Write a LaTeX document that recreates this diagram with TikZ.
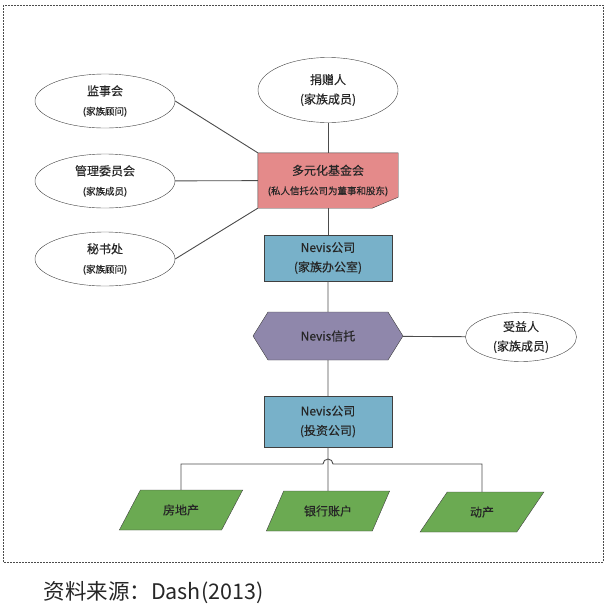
\documentclass[tikz,border=0pt]{standalone}
\usepackage{fontspec}
\setmainfont{Noto Sans CJK SC}[FakeBold=0.35]
\newfontfamily\captionfont{Noto Sans CJK SC}
\usetikzlibrary{shapes.geometric,shapes.symbols,backgrounds}
\definecolor{foundred}{HTML}{E48A8A}
\definecolor{officeblue}{HTML}{78B1C9}
\definecolor{trustpurple}{HTML}{8F87AB}
\definecolor{assetgreen}{HTML}{6BAA52}
\newcommand{\subtxt}[1]{{\fontsize{9.5}{12}\selectfont #1}}
\begin{document}
\begin{tikzpicture}[x=1pt, y=-1pt,
    font=\fontsize{12}{19.5}\selectfont, text=black!85,
    person/.style={ellipse, draw=black!75, fill=white, align=center, inner sep=0pt, minimum width=140pt, minimum height=54pt},
    foundbox/.style={rectangle, align=center, inner sep=0pt, minimum width=140pt, minimum height=55pt},
    company/.style={rectangle, draw=black!75, fill=officeblue, align=center, inner sep=0pt, minimum width=128pt, minimum height=46pt},
    trustbox/.style={signal, signal to=west and east, signal pointer angle=116, draw=black!75, fill=trustpurple, inner sep=0pt, minimum width=150pt, minimum height=48pt},
    asset/.style={trapezium, trapezium left angle=50, trapezium right angle=130, trapezium stretches=true, draw=black!75, fill=assetgreen, inner sep=0pt, minimum width=124pt, minimum height=40pt},
    link/.style={draw=black!70, line width=0.9pt},
    frame/.style={draw=black!70, dash pattern=on 2pt off 1pt, line width=0.6pt}]

    \useasboundingbox (0,0) rectangle (607,606);
    \draw [frame] (3,5) rectangle (603,562);

    % donors and boards
    \node (donor) [person, minimum height=65pt] at (328,90) {捐赠人\\(家族成员)};
    \node (sup) [person] at (105,101) {监事会\\\subtxt{(家族顾问)}};
    \node (mgmt) [person] at (105,181) {管理委员会\\\subtxt{(家族成员)}};
    \node (sec) [person] at (105,259) {秘书处\\\subtxt{(家族顾问)}};
    \node (found) [foundbox] at (328,180.5) {多元化基金会\\\subtxt{(私人信托公司为董事和股东)}};
    \begin{scope}[on background layer]
        \filldraw [draw=black!75, fill=foundred] (found.north west) -- (found.north east) -- ([yshift=11pt]found.south east)
            -- ([xshift=-26pt]found.south east) -- (found.south west) -- cycle;
    \end{scope}

    % trust chain
    \node (office) [company] at (328,258) {Nevis公司\\(家族办公室)};
    \node (trust) [trustbox] at (328,336) {Nevis信托};
    \node (bene) [person, minimum width=111pt, minimum height=49pt] at (521,337) {受益人\\(家族成员)};
    \node (invest) [company, minimum height=51pt] at (328,421.5) {Nevis公司\\(投资公司)};

    % assets
    \node (estate) [asset] at (181,510) {房地产};
    \node (bank) [asset] at (328,511) {银行账户};
    \node (movable) [asset] at (482,512) {动产};
    \coordinate (fork) at (328,464);

    \draw [link] (donor) -- (found);
    \draw [link] (sup.east) -- (found.north west);
    \draw [link] (mgmt) -- (found);
    \draw [link] (sec.east) -- (found.south west);
    \draw [link] (found) -- (office);
    \draw [link] (office) -- (trust);
    \draw [link] (trust) -- (bene);
    \draw [link] (trust) -- (invest);
    \draw [link] (invest) -- (bank);
    \draw [link] (estate.north) |- ([xshift=-5pt]fork) arc[start angle=180, end angle=0, radius=5pt] -| (movable.north);

    \node (source) [anchor=west, font=\captionfont\fontsize{21.5}{24}\selectfont, text=black!85] at (40,593) {资料来源：Dash(2013)};
\end{tikzpicture}
\end{document}
